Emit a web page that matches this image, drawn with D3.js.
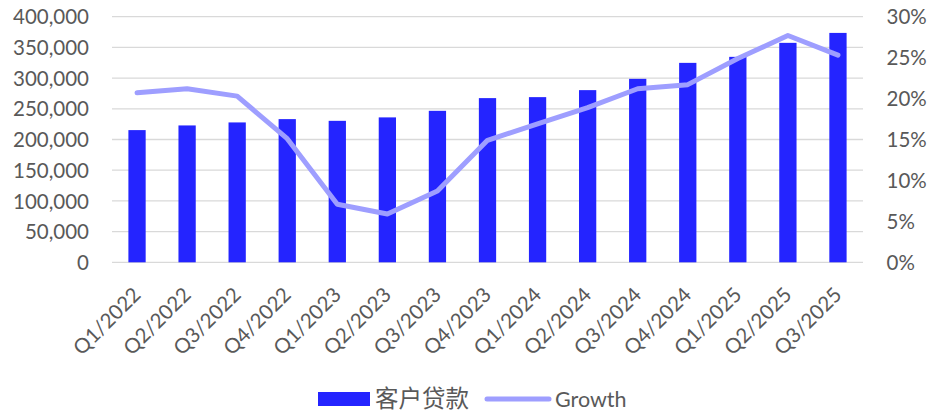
<!DOCTYPE html>
<html><head><meta charset="utf-8">
<script src="https://cdn.jsdelivr.net/npm/d3@7"></script>
<style>
html,body{margin:0;padding:0;background:#fff;}
svg{display:block;font-family:Lato,"Noto Sans CJK SC",sans-serif;}
</style></head>
<body>
<svg id="chart" width="941" height="412"></svg>
<script>
const categories = ["Q1/2022","Q2/2022","Q3/2022","Q4/2022","Q1/2023","Q2/2023","Q3/2023","Q4/2023","Q1/2024","Q2/2024","Q3/2024","Q4/2024","Q1/2025","Q2/2025","Q3/2025"];
const loans = [215300,222900,227800,233200,230400,236000,246700,267400,269000,280400,298800,324800,334600,357400,373600];
const growth = [20.7,21.2,20.3,15.1,7.1,5.9,8.7,14.9,16.9,18.9,21.2,21.7,24.9,27.7,25.3];
const leftTicks = [0,50000,100000,150000,200000,250000,300000,350000,400000];
const rightTicks = [0,5,10,15,20,25,30];
const seriesNames = ["客户贷款","Growth"];

const svg = d3.select("#chart");
const L = 112, R = 863, T = 16.7, B = 262.3;
const x = d3.scaleBand().domain(categories).range([L, R]).padding(0);
const yL = d3.scaleLinear().domain([0,400000]).range([B, T]);
const yR = d3.scaleLinear().domain([0,30]).range([B, T]);
const textColor = "#595959";

// gridlines
svg.append("g").selectAll("line").data(leftTicks).join("line")
  .attr("x1", L).attr("x2", R)
  .attr("y1", d => yL(d)).attr("y2", d => yL(d))
  .attr("stroke", "#d9d9d9").attr("stroke-width", 1.3);

// left axis
const axL = svg.append("g").attr("transform", `translate(${L},0)`)
  .call(d3.axisLeft(yL).tickValues(leftTicks).tickFormat(d3.format(",")).tickSize(0).tickPadding(23));
axL.select(".domain").remove();
axL.selectAll("text").attr("fill", textColor).style("font-size", "20.5px").style("font-family", "Lato").attr("dy", "0.35em");

// right axis
const axR = svg.append("g").attr("transform", `translate(${R},0)`)
  .call(d3.axisRight(yR).tickValues(rightTicks).tickFormat(d => d + "%").tickSize(0).tickPadding(23.5));
axR.select(".domain").remove();
axR.selectAll("text").attr("fill", textColor).style("font-size", "20.5px").style("font-family", "Lato").attr("dy", "0.35em");

// bars
const bw = x.bandwidth() * 0.345;
svg.append("g").selectAll("rect").data(loans).join("rect")
  .attr("x", (d, i) => x(categories[i]) + x.bandwidth()/2 - bw/2)
  .attr("width", bw)
  .attr("y", d => yL(d))
  .attr("height", d => B - yL(d))
  .attr("fill", "#2424ff");

// line
const line = d3.line()
  .x((d, i) => x(categories[i]) + x.bandwidth()/2)
  .y(d => yR(d));
svg.append("path").datum(growth)
  .attr("d", line)
  .attr("fill", "none")
  .attr("stroke", "#9e9eff")
  .attr("stroke-width", 5)
  .attr("stroke-linejoin", "round")
  .attr("stroke-linecap", "round");

// x labels
svg.append("g").selectAll("text").data(categories).join("text")
  .attr("transform", d => `translate(${x(d) + x.bandwidth()/2 + 5},296) rotate(-45)`)
  .attr("text-anchor", "end")
  .attr("fill", textColor)
  .style("font-size", "20.5px")
  .text(d => d);

// legend
const lg = svg.append("g");
lg.append("rect").attr("x", 318).attr("y", 392).attr("width", 52).attr("height", 14).attr("fill", "#2424ff");
lg.append("text").attr("x", 375).attr("y", 407).attr("fill", textColor).style("font-size", "23.5px").text(seriesNames[0]);
lg.append("line").attr("x1", 487).attr("x2", 549).attr("y1", 399).attr("y2", 399)
  .attr("stroke", "#9e9eff").attr("stroke-width", 5).attr("stroke-linecap", "round");
lg.append("text").attr("x", 555).attr("y", 407).attr("fill", textColor).style("font-size", "21.5px").text(seriesNames[1]);
</script>
</body></html>
